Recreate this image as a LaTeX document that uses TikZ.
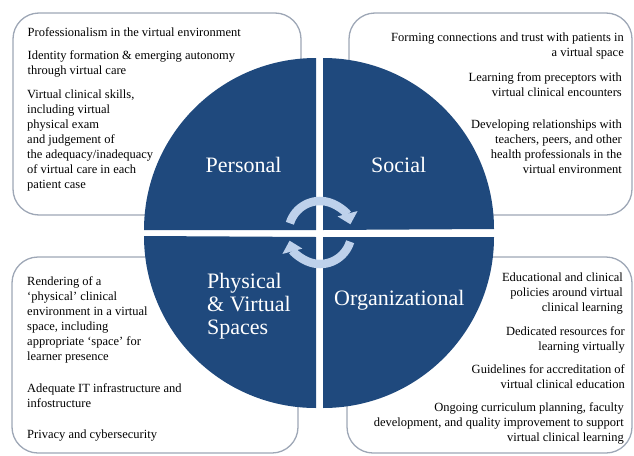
\documentclass[tikz,border=0pt]{standalone}
\usepackage{fontspec}
\setmainfont{Liberation Serif}
\usetikzlibrary{arrows.meta}
\definecolor{diagblue}{RGB}{31,73,125}
\definecolor{arrowblue}{RGB}{190,209,235}
\definecolor{boxgray}{RGB}{158,167,182}
\tikzset{
  bubble/.style = {draw=boxgray, line width=1.3pt, fill=white, rounded corners=26pt},
  quarter/.style = {fill=diagblue},
  item/.style = {inner sep=0pt, font=\fontsize{12.5}{15}\selectfont, align=left, anchor=north west},
  itemr/.style = {item, align=right, anchor=north east},
  title/.style = {inner sep=0pt, text=white, font=\fontsize{22}{23}\selectfont},
  turn/.style = {line width=8.5pt, draw=arrowblue, -{Triangle[length=11pt,width=20pt]}}
}

\begin{document}
\begin{tikzpicture}[x=1pt,y=-1pt]
  \useasboundingbox (0,0) rectangle (634,455);
  % boxes behind the circle
  \draw[bubble] (13,13) rectangle (301,215);
  \draw[bubble] (349,13) rectangle (632,215);
  \draw[bubble] (12,257) rectangle (298,453);
  \draw[bubble] (347,257) rectangle (632,453);
  % quarters
  \fill[quarter] (316,230) -- (144,230) arc[start angle=180, end angle=270, radius=172] -- cycle;
  \fill[quarter] (323,230) -- (323,58) arc[start angle=270, end angle=360, radius=171] -- cycle;
  \fill[quarter] (323,237) -- (494,237) arc[start angle=0, end angle=90, radius=171] -- cycle;
  \fill[quarter] (316,237) -- (316,408) arc[start angle=90, end angle=180, radius=172] -- cycle;
  % cycle arrows
  \coordinate (hub) at (320,232.5);
  \draw[turn] ([shift={(-163:31.5)}]hub) arc[start angle=-163, end angle=-15, radius=31.5];
  \draw[turn] ([shift={(17:31.5)}]hub) arc[start angle=17, end angle=165, radius=31.5];
  % titles
  \node[title, anchor=base west] (personal) at (205.5,172.5) {Personal};
  \node[title, anchor=base west] (social) at (371,172.5) {Social};
  \node[title, anchor=base west] (organizational) at (334,305) {Organizational};
  \node[title, align=left, anchor=north west] (physical) at (207,273) {Physical\\\& Virtual\\Spaces};
  % personal
  \node[item] (pers1) at (27.5,27.5) {Professionalism in the virtual environment};
  \node[item] (pers2) at (27.5,50.5) {Identity formation \& emerging autonomy\\through virtual care};
  \node[item] (pers3) at (27,89.5) {Virtual clinical skills,\\including virtual\\physical exam\\and judgement of\\the adequacy/inadequacy\\of virtual care in each\\patient case};
  % social
  \node[itemr] (soc1) at (624,32.5) {Forming connections and trust with patients in\\a virtual space};
  \node[itemr] (soc2) at (622,72.5) {Learning from preceptors with\\virtual clinical encounters};
  \node[itemr] (soc3) at (622,119.5) {Developing relationships with\\teachers, peers, and other\\health professionals in the\\virtual environment};
  % physical & virtual spaces
  \node[item] (phys1) at (27,276.5) {Rendering of a\\`physical' clinical\\environment in a virtual\\space, including\\appropriate `space' for\\learner presence};
  \node[item] (phys2) at (27,383.5) {Adequate IT infrastructure and\\infostructure};
  \node[item] (phys3) at (27,429.5) {Privacy and cybersecurity};
  % organizational
  \node[itemr] (org1) at (623,272.5) {Educational and clinical\\policies around virtual\\clinical learning};
  \node[itemr] (org2) at (625,326.5) {Dedicated resources for\\learning virtually};
  \node[itemr] (org3) at (625,364.5) {Guidelines for accreditation of\\virtual clinical education};
  \node[itemr] (org4) at (624,402.5) {Ongoing curriculum planning, faculty\\development, and quality improvement to support\\virtual clinical learning};
\end{tikzpicture}
\end{document}
